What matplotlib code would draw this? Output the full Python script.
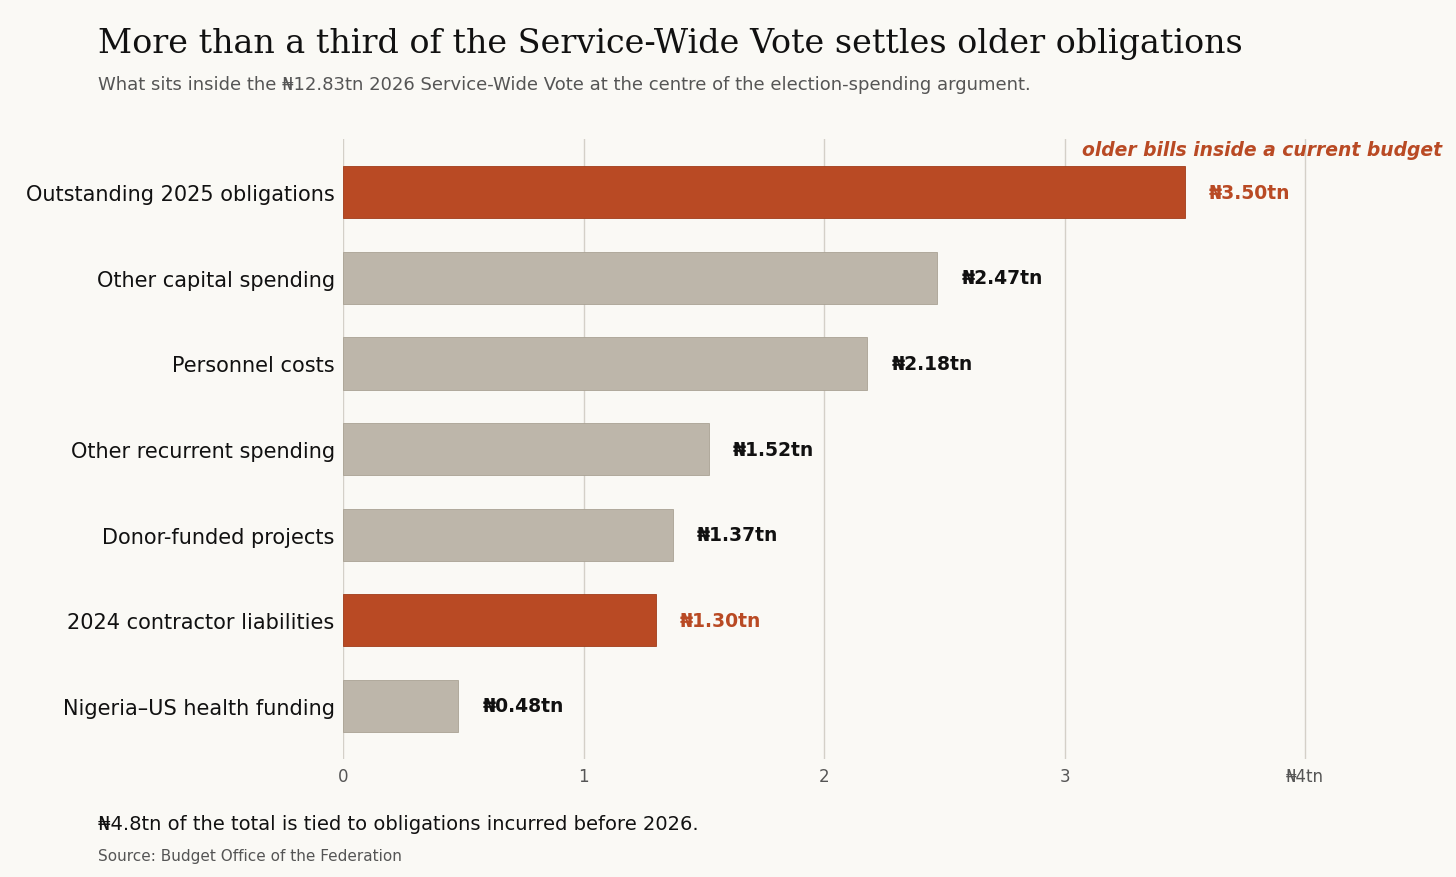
import matplotlib
matplotlib.use("Agg")
import matplotlib.pyplot as plt

categories = ["Outstanding 2025 obligations", "Other capital spending", "Personnel costs",
              "Other recurrent spending", "Donor-funded projects", "2024 contractor liabilities",
              "Nigeria–US health funding"]
values = [3.50, 2.47, 2.18, 1.52, 1.37, 1.30, 0.48]
highlight = [True, False, False, False, False, True, False]
tick_vals = [0, 1, 2, 3, 4]
tick_labels = ["0", "1", "2", "3", "₦4tn"]

bg = "#faf9f5"; orange = "#b94a24"; grey = "#bdb6aa"
fig = plt.figure(figsize=(14.56, 8.78), dpi=100, facecolor=bg)
ax = fig.add_axes([0.2356, 0.1344, 0.7434, 0.7061], facecolor=bg)
ys = list(range(len(categories)))
cols = [orange if h else grey for h in highlight]
ax.barh(ys, values, height=0.61, color=cols, edgecolor=[("#a03c1a" if h else "#a9a294") for h in highlight], linewidth=0.6, zorder=3)
for y, v, h in zip(ys, values, highlight):
    ax.text(v + 0.1, y, f"₦{v:.2f}tn", va="center", ha="left", fontsize=13.5, fontweight="bold",
            color=orange if h else "#111111")
ax.set_xlim(0, 4.5)
ax.set_ylim(6.62, -0.62)
ax.set_yticks(ys)
ax.set_yticklabels(categories, fontsize=15, color="#111111")
ax.set_xticks(tick_vals)
ax.set_xticklabels(tick_labels, fontsize=12, color="#555555")
ax.tick_params(length=0, pad=6)
ax.tick_params(axis="y", pad=6)
for v in tick_vals:
    ax.axvline(v, color="#d4d0c8", linewidth=1, zorder=0)
for s in ax.spines.values():
    s.set_visible(False)
ax.text(4.57, -0.5, "older bills inside a current budget", ha="right", va="center",
        fontsize=13.5, fontweight="bold", fontstyle="italic", color=orange)

fig.text(0.067, 0.968, "More than a third of the Service-Wide Vote settles older obligations",
         family="DejaVu Serif", fontsize=24, va="top", color="#111111")
fig.text(0.067, 0.903, "What sits inside the ₦12.83tn 2026 Service-Wide Vote at the centre of the election-spending argument.",
         fontsize=13, va="center", color="#555555")
fig.text(0.067, 0.061, "₦4.8tn of the total is tied to obligations incurred before 2026.",
         fontsize=14, va="center", color="#111111")
fig.text(0.067, 0.025, "Source: Budget Office of the Federation", fontsize=11, va="center", color="#555555")
fig.savefig("out.png", dpi=100, facecolor=bg)
